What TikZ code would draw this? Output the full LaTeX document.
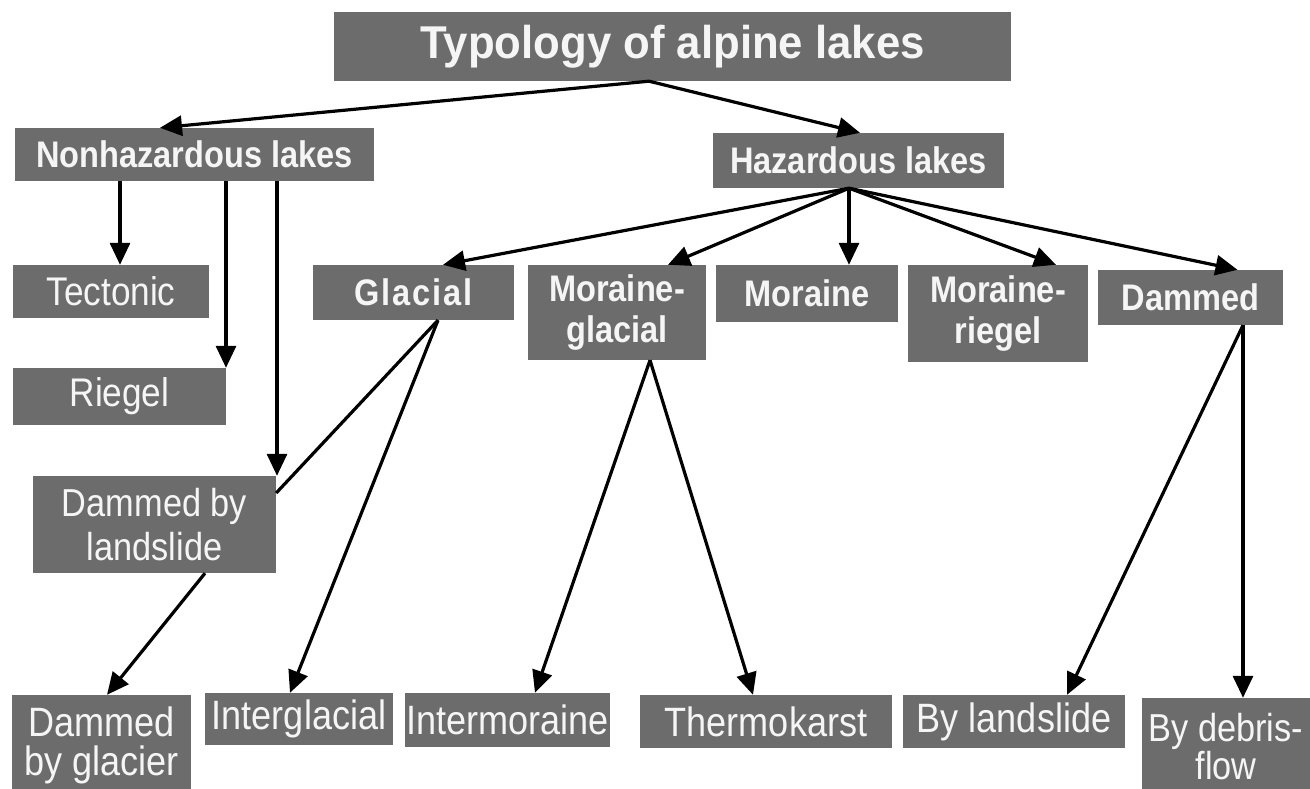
\documentclass[tikz,border=0pt]{standalone}
\usepackage{fontspec}
\setmainfont{Liberation Sans}[FakeStretch=0.88]
\newfontfamily\titlefont{Liberation Sans}[FakeStretch=0.95]
\usetikzlibrary{arrows.meta,calc}
\definecolor{boxgray}{RGB}{108,108,108}
\definecolor{boxtext}{RGB}{245,245,245}
\begin{document}
\begin{tikzpicture}[x=1pt,y=-1pt,
  box/.style={fill=boxgray,text=boxtext,inner sep=0pt,align=center},
  bigb/.style={font=\titlefont\bfseries\fontsize{46}{50}\selectfont},
  midb/.style={font=\bfseries\fontsize{37}{41}\selectfont},
  midr/.style={font=\fontsize{40}{42}\selectfont},
  lowr/.style={font=\fontsize{41}{39}\selectfont},
  arr/.style={draw=black,line width=3.2pt,-{Triangle[length=22pt,width=20pt]}},
  lin/.style={draw=black,line width=3.2pt}]
\useasboundingbox (0,0) rectangle (1310,789);
\fill[white] (0,0) rectangle (1310,789);
% top level
\node[box,bigb,minimum width=677,minimum height=69] (title) at (672.5,46.5) {Typology of alpine lakes};
\node[box,midb,minimum width=359,minimum height=53] (nonhaz) at (194.5,154.5) {Nonhazardous lakes};
\node[box,midb,minimum width=291,minimum height=55] (haz) at (858.5,160.5) {Hazardous lakes};
% middle row
\node[box,midr,minimum width=196,minimum height=53] (tect) at (111,291.5) {Tectonic};
\node[box,midb,minimum width=201,minimum height=55] (glacial) at (413.5,292.5) {\addfontfeature{LetterSpace=5}Glacial};
\node[box,midb,minimum width=178,minimum height=95] (morglac) at (617,312.5) {Moraine-\\glacial};
\node[box,midb,minimum width=182,minimum height=57] (moraine) at (807,293.5) {Moraine};
\node[box,midb,minimum width=180,minimum height=97] (morrieg) at (998,313.5) {Moraine-\\riegel};
\node[box,midb,minimum width=185,minimum height=55] (dammed) at (1190.5,297.5) {Dammed};
\node[box,midr,minimum width=213,minimum height=57] (riegel) at (119.5,396.5) {Riegel};
\node[box,midr,font=\fontsize{39}{44}\selectfont,minimum width=243,minimum height=97] (dland) at (154.5,524.5) {Dammed by\\landslide};
% bottom row
\node[box,lowr,minimum width=179,minimum height=100] (dglac) at (101.5,745) {Dammed\\by glacier};
\node[box,lowr,minimum width=188,minimum height=52] (interglac) at (299,719) {Interglacial};
\node[box,lowr,minimum width=205,minimum height=54] (intermor) at (507.5,720) {Intermoraine};
\node[box,lowr,minimum width=252,minimum height=53] (thermo) at (766,721.5) {Thermokarst};
\node[box,lowr,minimum width=222,minimum height=53] (byland) at (1014,721.5) {By landslide};
\node[box,font=\fontsize{39}{38}\selectfont,minimum width=168,minimum height=98] (debris) at (1226,747) {By debris-\\flow};
% connectors from title
\coordinate (t0) at ([xshift=-23.5pt]title.south);
\draw[arr] (t0) -- ([xshift=-34.5pt]nonhaz.north);
\draw[arr] (t0) -- ([xshift=1.5pt]haz.north);
% nonhazardous branches
\coordinate (n1) at ([xshift=-74.5pt]nonhaz.south);
\coordinate (n2) at ([xshift=31.5pt]nonhaz.south);
\coordinate (n3) at ([xshift=82.5pt]nonhaz.south);
\draw[arr] (n1) -- (n1 |- tect.north);
\draw[arr] (n2) -- (n2 |- riegel.north);
\draw[arr] (n3) -- (n3 |- dland.north);
% hazardous branches
\coordinate (h0) at ([xshift=-9.5pt]haz.south);
\draw[arr] (h0) -- ([xshift=29.5pt]glacial.north);
\draw[arr] (h0) -- ([xshift=51pt]morglac.north);
\draw[arr] (h0) -- (h0 |- moraine.north);
\draw[arr] (h0) -- ([xshift=58pt]morrieg.north);
\draw[arr] (h0) -- ([xshift=47pt]dammed.north);
% glacial
\coordinate (g0) at ([xshift=24.5pt]glacial.south);
\draw[lin] (g0) -- ([yshift=31.5pt]dland.east);
\draw[arr] (g0) -- ([xshift=-9pt]interglac.north);
% moraine-glacial
\coordinate (m0) at ([xshift=33pt]morglac.south);
\draw[arr] (m0) -- ([xshift=27.5pt]intermor.north);
\draw[arr] (m0) -- ([xshift=-13pt]thermo.north);
% dammed
\coordinate (d0) at ([xshift=52.5pt]dammed.south);
\draw[arr] (d0) -- ([xshift=53pt]byland.north);
\draw[arr] (d0) -- (d0 |- debris.north);
% dammed by landslide
\draw[arr] ([xshift=50.5pt]dland.south) -- ([xshift=5.5pt]dglac.north);
\end{tikzpicture}
\end{document}
